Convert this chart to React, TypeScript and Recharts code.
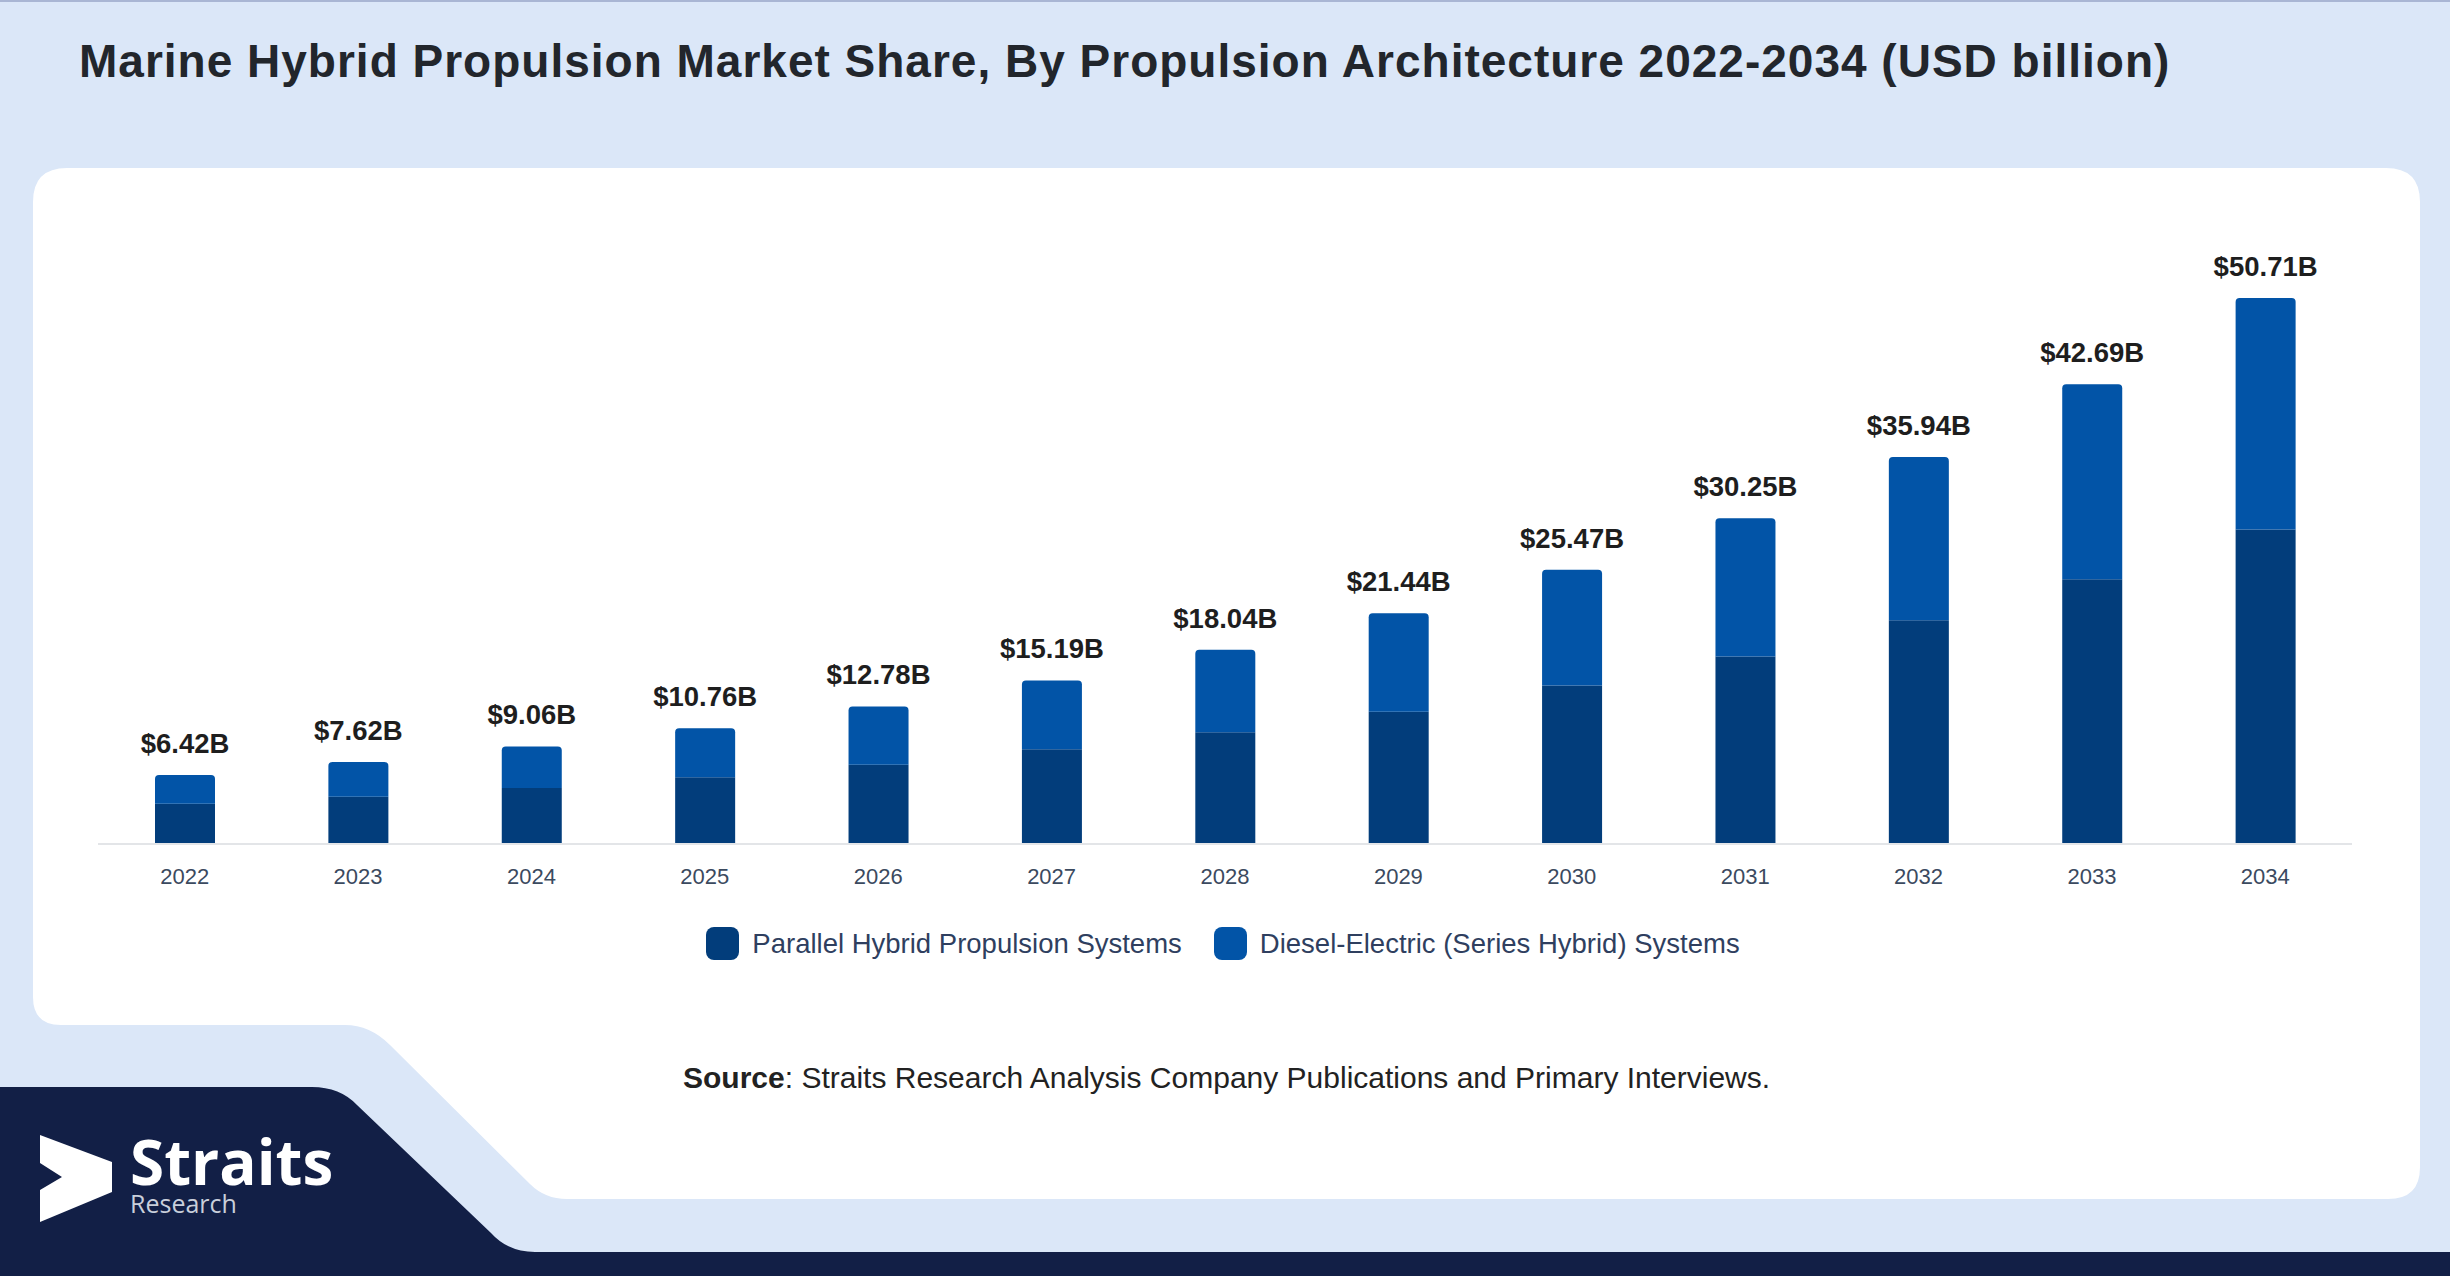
import React from 'react';
import { Bar, BarChart, LabelList, XAxis, YAxis } from 'recharts';

const years = ['2022', '2023', '2024', '2025', '2026', '2027', '2028', '2029', '2030', '2031', '2032', '2033', '2034'];
const parallelHybrid = [3.75, 4.4, 5.19, 6.21, 7.36, 8.8, 10.39, 12.29, 14.73, 17.42, 20.79, 24.6, 29.2];
const dieselElectric = [2.67, 3.22, 3.87, 4.55, 5.42, 6.39, 7.65, 9.15, 10.74, 12.83, 15.15, 18.09, 21.51];
const totals = [6.42, 7.62, 9.06, 10.76, 12.78, 15.19, 18.04, 21.44, 25.47, 30.25, 35.94, 42.69, 50.71];

const series = [
  { key: 'parallel', name: 'Parallel Hybrid Propulsion Systems', color: '#023d7b' },
  { key: 'diesel', name: 'Diesel-Electric (Series Hybrid) Systems', color: '#0254a7' },
];

const data = years.map((year, i) => ({
  year,
  parallel: parallelHybrid[i],
  diesel: dieselElectric[i],
  total: totals[i],
}));

const FONT = '"Liberation Sans", Arial, sans-serif';
const W = 2450;
const H = 1276;

function Backdrop() {
  return (
    <svg width={W} height={H} style={{ position: 'absolute', left: 0, top: 0 }}>
      <rect x={0} y={0} width={W} height={H} fill="#dbe7f8" />
      <rect x={0} y={0} width={W} height={2} fill="#a9b6d4" />
      <path
        d="M 67 168 H 2386 Q 2420 168 2420 202 V 1167 Q 2420 1199 2388 1199 H 567 Q 545 1199 530 1184 L 390 1045 Q 370 1025 345 1025 H 61 Q 33 1025 33 997 V 202 Q 33 168 67 168 Z"
        fill="#ffffff"
      />
      <path
        d="M 0 1087 H 312 Q 340 1087 357 1105 L 491 1233 Q 508 1252 535 1252 H 2450 V 1276 H 0 Z"
        fill="#121f46"
      />
      <polygon points="40,1135 112,1162 112,1192 40,1222 40,1190 62,1177 40,1163" fill="#ffffff" />
      <text x={130} y={1185} fontFamily='"Open Sans", sans-serif' fontWeight={700} fontSize={62} fill="#ffffff">
        Straits
      </text>
      <text x={130} y={1213} fontFamily='"Open Sans", sans-serif' fontSize={25} fill="#c9cfdb">
        Research
      </text>
      <text x={79} y={77} fontFamily={FONT} fontWeight={700} fontSize={46} letterSpacing={1} fill="#22262c">
        Marine Hybrid Propulsion Market Share, By Propulsion Architecture 2022-2034 (USD billion)
      </text>
      <text x={683} y={1088} fontFamily={FONT} fontSize={30} fill="#222222">
        <tspan fontWeight={700}>Source</tspan>: Straits Research Analysis Company Publications and Primary Interviews.
      </text>
    </svg>
  );
}

function SeriesLegend() {
  return (
    <div
      style={{
        position: 'absolute',
        left: 0,
        top: 927,
        width: 2446,
        display: 'flex',
        justifyContent: 'center',
        alignItems: 'center',
        gap: 32,
        fontFamily: FONT,
        fontSize: 27.5,
        color: '#2f3f5f',
      }}
    >
      {series.map((s) => (
        <div key={s.key} style={{ display: 'flex', alignItems: 'center', height: 33 }}>
          <div style={{ width: 33, height: 33, borderRadius: 8, background: s.color, marginRight: 13 }} />
          <span>{s.name}</span>
        </div>
      ))}
    </div>
  );
}

export default function App() {
  return (
    <div style={{ position: 'relative', width: W, height: H, overflow: 'hidden' }}>
      <style>{'body{margin:0}'}</style>
      <Backdrop />
      <div style={{ position: 'absolute', left: 0, top: 0 }}>
        <BarChart width={W} height={900} data={data} margin={{ top: 198, right: 98, bottom: 0, left: 98 }}>
          <XAxis
            dataKey="year"
            height={56}
            tickLine={false}
            tickMargin={18}
            axisLine={{ stroke: '#e3e5e8', strokeWidth: 2 }}
            tick={{ fill: '#3b4a5f', fontSize: 22, fontFamily: FONT }}
          />
          <YAxis hide domain={[0, 60]} />
          <Bar dataKey="parallel" name={series[0].name} stackId="a" fill={series[0].color} barSize={60} isAnimationActive={false} />
          <Bar
            dataKey="diesel"
            name={series[1].name}
            stackId="a"
            fill={series[1].color}
            barSize={60}
            radius={[4, 4, 0, 0]}
            isAnimationActive={false}
          >
            <LabelList
              dataKey="total"
              position="top"
              offset={22}
              formatter={(v: any) => `$${Number(v).toFixed(2)}B`}
              style={{ fill: '#1e1e1e', fontSize: 27.5, fontWeight: 700, fontFamily: FONT }}
            />
          </Bar>
        </BarChart>
      </div>
      <SeriesLegend />
    </div>
  );
}
